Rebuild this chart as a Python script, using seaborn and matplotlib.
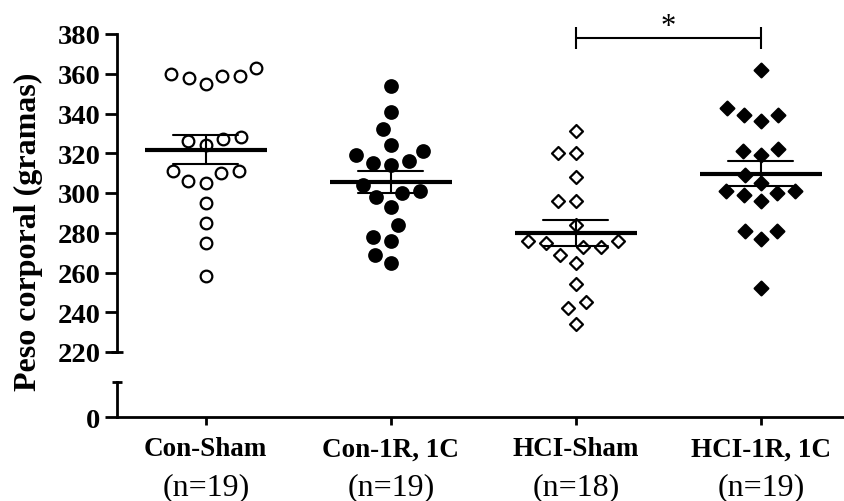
import numpy as np
import pandas as pd
import matplotlib
matplotlib.use("Agg")
import matplotlib.pyplot as plt
import matplotlib.transforms as mtransforms
import seaborn as sns

# Groups and sample sizes
grupos = ["Con-Sham", "Con-1R, 1C", "HCI-Sham", "HCI-1R, 1C"]
n_rotulos = ["(n=19)", "(n=19)", "(n=18)", "(n=19)"]

# Body weight of each animal (g)
con_sham = [360, 359, 355, 358, 359, 363, 328, 326, 324, 327,
            311, 310, 305, 306, 311, 295, 285, 275, 258]
con_1r1c = [354, 341, 332, 324, 321, 319, 316, 314, 315, 304,
            300, 301, 298, 293, 284, 278, 276, 269, 265]
hci_sham = [331, 320, 320, 308, 296, 296, 284, 276, 275, 276,
            273, 269, 273, 265, 254, 245, 242, 234]
hci_1r1c = [362, 343, 339, 336, 339, 322, 319, 321, 309, 305,
            301, 300, 296, 299, 301, 281, 277, 281, 252]

y_ticks = [220, 240, 260, 280, 300, 320, 340, 360, 380]

valores = [con_sham, con_1r1c, hci_sham, hci_1r1c]
df = pd.DataFrame({
    "grupo": np.repeat(grupos, [len(v) for v in valores]),
    "peso": np.concatenate(valores),
})

sns.set_theme(style="ticks", rc={
    "axes.edgecolor": "black", "xtick.color": "black", "ytick.color": "black",
    "text.color": "black", "axes.labelcolor": "black",
})
plt.rcParams["font.family"] = ["Liberation Serif", "DejaVu Serif"]

W, H = 844, 502
fig = plt.figure(figsize=(W / 100, H / 100), dpi=100)
fig.patch.set_facecolor("white")
ax = fig.add_axes([117 / W, 1 - 353 / H, 1 - 117 / W, 318 / H])
ax_b = fig.add_axes([117 / W, 1 - 418 / H, 1 - 117 / W, 35 / H])

xlim = (-0.48, 3.45)

# Swarm layout per group (spacing a little wider than the visible markers)
swarms = []
for g, vals in zip(grupos, valores):
    antes = len(ax.collections)
    sns.swarmplot(x=[g] * len(vals), y=vals, order=grupos, size=12.5,
                  linewidth=0, alpha=0, ax=ax)
    novos = [c for c in ax.collections[antes:] if len(c.get_offsets())]
    swarms.append(novos)
ax.set_xlim(*xlim)
ax.set_ylim(220, 380)

# Mean +/- SEM
sns.pointplot(data=df, x="grupo", y="peso", order=grupos, errorbar="se",
              capsize=0.35, color="black", marker="_", markersize=88,
              markeredgewidth=3, linestyle="none",
              err_kws={"linewidth": 1.5}, ax=ax, zorder=5)
ax.set_xlim(*xlim)
ax.set_ylim(220, 380)

ax.set_xlabel("")
ax.set_ylabel("")
for side in ("top", "right", "bottom"):
    ax.spines[side].set_visible(False)
ax.spines["left"].set_bounds(220, 380)
ax.spines["left"].set_linewidth(2)
ax.tick_params(axis="x", bottom=False, labelbottom=False)
ax.set_yticks(y_ticks)
ax.set_yticklabels([str(v) for v in y_ticks], fontweight="bold", fontsize=20.5)
ax.tick_params(axis="y", direction="out", length=9, width=2, pad=3)
ax.plot(xlim[0], 220, marker="_", ms=9, mew=2, color="black", clip_on=False)

# Lower segment of the broken axis holding the zero
ax_b.set_xlim(*xlim)
ax_b.set_ylim(0, 1)
for side in ("top", "right"):
    ax_b.spines[side].set_visible(False)
ax_b.spines["left"].set_linewidth(2)
ax_b.spines["bottom"].set_linewidth(2)
ax_b.set_yticks([0])
ax_b.set_yticklabels(["0"], fontweight="bold", fontsize=20.5)
ax_b.tick_params(axis="y", direction="out", length=9, width=2, pad=3)
ax_b.set_xticks(range(len(grupos)))
ax_b.set_xticklabels(grupos, fontweight="bold", fontsize=19.5)
ax_b.tick_params(axis="x", direction="out", length=6, width=2, pad=8)
ax_b.plot(xlim[0], 1, marker="_", ms=7, mew=2, color="black", clip_on=False)
ax_b.set_facecolor("none")

trans = mtransforms.blended_transform_factory(ax_b.transData, fig.transFigure)
for i, t in enumerate(n_rotulos):
    ax_b.text(i, 7 / H, t, transform=trans, ha="center", va="baseline", fontsize=23)

# Significance bracket between the HCI groups
ax.plot([2, 3], [378, 378], color="black", lw=1.5, marker="|", ms=16, mew=1.5,
        clip_on=False)
ax.text(2.5, 384, "*", ha="center", va="center", fontsize=22, clip_on=False)

fig.text(28 / W, 1 - 232 / H, "Peso corporal (gramas)", rotation=90,
         ha="center", va="center", fontsize=23, fontweight="bold")

# Resolve the swarm positions, then draw each group's own marker there
fig.canvas.draw()
estilos = [("o", "white", 8.4), ("o", "black", 9.0), ("D", "white", 6.6), ("D", "black", 7.0)]
for colls, (m, c, s) in zip(swarms, estilos):
    for coll in colls:
        xy = np.asarray(coll.get_offsets())
        coll.set_visible(False)
        ax.scatter(xy[:, 0], xy[:, 1], marker=m, s=s ** 2, facecolor=c,
                   edgecolor="black", linewidths=1.6, zorder=3, clip_on=False)

fig.savefig("out.png", dpi=100, facecolor="white")
